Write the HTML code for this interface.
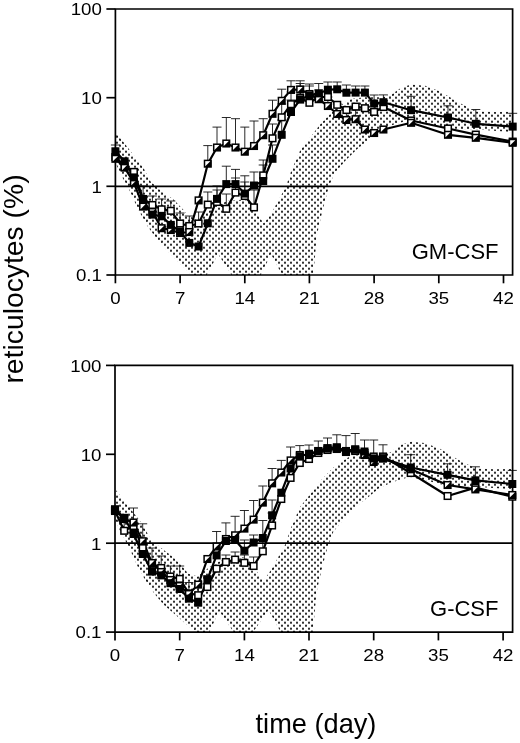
<!DOCTYPE html>
<html><head><meta charset="utf-8"><title>reticulocytes</title>
<style>
html,body{margin:0;padding:0;background:#fff}
body{width:520px;height:743px;overflow:hidden}
svg{display:block;will-change:transform}
text{font-family:"Liberation Sans",Arial,Helvetica,sans-serif;fill:#000}
.tk{font-size:17px}
.lb{font-size:22px}
.ax{font-size:28.3px}
.ax2{font-size:27.2px}
</style></head><body>
<svg width="520" height="743" viewBox="0 0 520 743">
<defs><pattern id="dots" x="0" y="1.7" width="6" height="6" patternUnits="userSpaceOnUse"><circle cx="0" cy="0" r="1.08"/><circle cx="6" cy="0" r="1.08"/><circle cx="0" cy="6" r="1.08"/><circle cx="6" cy="6" r="1.08"/><circle cx="3" cy="3" r="1.08"/></pattern></defs>
<rect width="520" height="743" fill="#fff"/>
<clipPath id="c9"><rect x="115.4" y="9" width="397.2" height="266"/></clipPath>
<polygon points="115.4,133 124,144 132.5,155 142,167 150,182 158,189 165,194.5 174,201 182.5,210 188,217 198,220 206,214 215,207 228.5,201.5 242,200.6 249.6,202 254,211 263.9,225 272.7,212.3 279.4,200.2 286.5,187.5 292,171 301.2,150 310,139 321.5,124 333,112 344.6,103.5 351.5,99.5 365,98 380,98 390.8,96 402.3,88 411.5,85.3 425,86.5 439.6,92 457.9,103 476,112 495,112.8 513,112.5 513,131.5 480,129 448,128 425,122 409.2,119 402.3,121.3 390.8,124.8 379.2,130.5 367.7,139.8 356.2,149 344.6,160.5 333,174.3 327.3,189.5 321.5,211.4 316.3,234.4 312.5,274.9 283,274.9 271,252.5 260,274.9 232.3,274.9 218,252.5 206,274.9 192.5,274.9 185.7,268.2 175.4,257.9 165,247.5 156.3,237 147.7,225 139,209.4 130.4,190.4 122,175 115.4,161" fill="url(#dots)" stroke="url(#dots)" stroke-width="1.6" stroke-linejoin="round" clip-path="url(#c9)"/>
<path d="M143.1 199V186M138.6 186H147.6" stroke="#111" stroke-width="0.9" fill="none"/>
<path d="M152.4 205V196M147.9 196H156.9" stroke="#111" stroke-width="0.9" fill="none"/>
<path d="M161.6 209.3V199M157.1 199H166.1" stroke="#111" stroke-width="0.9" fill="none"/>
<path d="M170.8 210.8V201M166.3 201H175.3" stroke="#111" stroke-width="0.9" fill="none"/>
<path d="M180.1 223.5V213M175.6 213H184.6" stroke="#111" stroke-width="0.9" fill="none"/>
<path d="M189.3 226V216M184.8 216H193.8" stroke="#111" stroke-width="0.9" fill="none"/>
<path d="M198.6 223.5V212M194.1 212H203.1" stroke="#111" stroke-width="0.9" fill="none"/>
<path d="M207.8 204.6V192M203.3 192H212.3" stroke="#111" stroke-width="0.9" fill="none"/>
<path d="M217 202V190M212.5 190H221.5" stroke="#111" stroke-width="0.9" fill="none"/>
<path d="M226.3 208.8V194M221.8 194H230.8" stroke="#111" stroke-width="0.9" fill="none"/>
<path d="M235.5 192.6V178M231 178H240" stroke="#111" stroke-width="0.9" fill="none"/>
<path d="M244.8 196V182M240.3 182H249.3" stroke="#111" stroke-width="0.9" fill="none"/>
<path d="M254 207.4V190M249.5 190H258.5" stroke="#111" stroke-width="0.9" fill="none"/>
<path d="M263.2 175.4V160M258.7 160H267.7" stroke="#111" stroke-width="0.9" fill="none"/>
<path d="M272.5 138.3V124M268 124H277" stroke="#111" stroke-width="0.9" fill="none"/>
<path d="M281.7 117.3V104M277.2 104H286.2" stroke="#111" stroke-width="0.9" fill="none"/>
<path d="M291 104.2V92M286.5 92H295.5" stroke="#111" stroke-width="0.9" fill="none"/>
<path d="M300.2 98V83.5M295.7 83.5H304.7" stroke="#111" stroke-width="0.9" fill="none"/>
<path d="M374.1 111.9V103M369.6 103H378.6" stroke="#111" stroke-width="0.9" fill="none"/>
<path d="M115.4 151.3V145M110.9 145H119.9" stroke="#111" stroke-width="0.9" fill="none"/>
<path d="M217 198.9V186M212.5 186H221.5" stroke="#111" stroke-width="0.9" fill="none"/>
<path d="M226.3 184.1V166.2M221.8 166.2H230.8" stroke="#111" stroke-width="0.9" fill="none"/>
<path d="M235.5 184.1V169.4M231 169.4H240" stroke="#111" stroke-width="0.9" fill="none"/>
<path d="M244.8 193.6V175.8M240.3 175.8H249.3" stroke="#111" stroke-width="0.9" fill="none"/>
<path d="M254 185.5V172M249.5 172H258.5" stroke="#111" stroke-width="0.9" fill="none"/>
<path d="M263.2 181V165M258.7 165H267.7" stroke="#111" stroke-width="0.9" fill="none"/>
<path d="M272.5 158.8V145M268 145H277" stroke="#111" stroke-width="0.9" fill="none"/>
<path d="M281.7 134.8V120M277.2 120H286.2" stroke="#111" stroke-width="0.9" fill="none"/>
<path d="M291 112V100M286.5 100H295.5" stroke="#111" stroke-width="0.9" fill="none"/>
<path d="M300.2 99.6V86.2M295.7 86.2H304.7" stroke="#111" stroke-width="0.9" fill="none"/>
<path d="M309.4 95.4V84M304.9 84H313.9" stroke="#111" stroke-width="0.9" fill="none"/>
<path d="M318.7 93.4V83.5M314.2 83.5H323.2" stroke="#111" stroke-width="0.9" fill="none"/>
<path d="M327.9 89.7V82M323.4 82H332.4" stroke="#111" stroke-width="0.9" fill="none"/>
<path d="M337.2 89.3V82M332.7 82H341.7" stroke="#111" stroke-width="0.9" fill="none"/>
<path d="M346.4 92.7V85M341.9 85H350.9" stroke="#111" stroke-width="0.9" fill="none"/>
<path d="M355.6 92.6V86M351.1 86H360.1" stroke="#111" stroke-width="0.9" fill="none"/>
<path d="M364.9 92.6V86M360.4 86H369.4" stroke="#111" stroke-width="0.9" fill="none"/>
<path d="M374.1 103.5V95M369.6 95H378.6" stroke="#111" stroke-width="0.9" fill="none"/>
<path d="M383.4 102.2V94.9M378.9 94.9H387.9" stroke="#111" stroke-width="0.9" fill="none"/>
<path d="M411.1 110.2V96.3M406.6 96.3H415.6" stroke="#111" stroke-width="0.9" fill="none"/>
<path d="M448 117.5V105.8M443.5 105.8H452.5" stroke="#111" stroke-width="0.9" fill="none"/>
<path d="M475.8 123.8V109.5M471.3 109.5H480.3" stroke="#111" stroke-width="0.9" fill="none"/>
<path d="M512.7 126.6V113.3M508.2 113.3H517.2" stroke="#111" stroke-width="0.9" fill="none"/>
<path d="M207.8 163.7V145.6M203.3 145.6H212.3" stroke="#111" stroke-width="0.9" fill="none"/>
<path d="M217 147.5V127.1M212.5 127.1H221.5" stroke="#111" stroke-width="0.9" fill="none"/>
<path d="M226.3 143.5V117.5M221.8 117.5H230.8" stroke="#111" stroke-width="0.9" fill="none"/>
<path d="M235.5 147.5V118.7M231 118.7H240" stroke="#111" stroke-width="0.9" fill="none"/>
<path d="M244.8 151.7V127.1M240.3 127.1H249.3" stroke="#111" stroke-width="0.9" fill="none"/>
<path d="M254 146V121M249.5 121H258.5" stroke="#111" stroke-width="0.9" fill="none"/>
<path d="M263.2 135.2V118.7M258.7 118.7H267.7" stroke="#111" stroke-width="0.9" fill="none"/>
<path d="M272.5 113.8V100.2M268 100.2H277" stroke="#111" stroke-width="0.9" fill="none"/>
<path d="M281.7 100.8V89.2M277.2 89.2H286.2" stroke="#111" stroke-width="0.9" fill="none"/>
<path d="M291 89.9V80.8M286.5 80.8H295.5" stroke="#111" stroke-width="0.9" fill="none"/>
<path d="M300.2 89.5V80.8M295.7 80.8H304.7" stroke="#111" stroke-width="0.9" fill="none"/>
<path d="M309.4 94V86M304.9 86H313.9" stroke="#111" stroke-width="0.9" fill="none"/>
<path d="M318.7 99.2V90M314.2 90H323.2" stroke="#111" stroke-width="0.9" fill="none"/>
<path d="M327.9 106V97M323.4 97H332.4" stroke="#111" stroke-width="0.9" fill="none"/>
<path d="M337.2 114V104M332.7 104H341.7" stroke="#111" stroke-width="0.9" fill="none"/>
<path d="M346.4 120V110M341.9 110H350.9" stroke="#111" stroke-width="0.9" fill="none"/>
<path d="M355.6 119.2V110M351.1 110H360.1" stroke="#111" stroke-width="0.9" fill="none"/>
<path d="M115.4 9H512.6V275H115.4Z" fill="none" stroke="#000" stroke-width="1.7"/>
<path d="M115.4 186.3H512.6" stroke="#000" stroke-width="1.8"/>
<path d="M106.4 9H115.4" stroke="#000" stroke-width="1.7"/>
<path d="M106.4 97.7H115.4" stroke="#000" stroke-width="1.7"/>
<path d="M106.4 186.3H115.4" stroke="#000" stroke-width="1.7"/>
<path d="M106.4 275H115.4" stroke="#000" stroke-width="1.7"/>
<path d="M115.4 275V283.3" stroke="#000" stroke-width="1.7"/>
<text transform="translate(115.4,304) scale(1.1,1)" text-anchor="middle" class="tk">0</text>
<path d="M180.1 275V283.3" stroke="#000" stroke-width="1.7"/>
<text transform="translate(180.1,304) scale(1.1,1)" text-anchor="middle" class="tk">7</text>
<path d="M244.8 275V283.3" stroke="#000" stroke-width="1.7"/>
<text transform="translate(244.8,304) scale(1.1,1)" text-anchor="middle" class="tk">14</text>
<path d="M309.4 275V283.3" stroke="#000" stroke-width="1.7"/>
<text transform="translate(309.4,304) scale(1.1,1)" text-anchor="middle" class="tk">21</text>
<path d="M374.1 275V283.3" stroke="#000" stroke-width="1.7"/>
<text transform="translate(374.1,304) scale(1.1,1)" text-anchor="middle" class="tk">28</text>
<path d="M438.8 275V283.3" stroke="#000" stroke-width="1.7"/>
<text transform="translate(438.8,304) scale(1.1,1)" text-anchor="middle" class="tk">35</text>
<path d="M503.5 275V283.3" stroke="#000" stroke-width="1.7"/>
<text transform="translate(503.5,304) scale(1.1,1)" text-anchor="middle" class="tk">42</text>
<text transform="translate(101.9,15.3) scale(1.1,1)" text-anchor="end" class="tk">100</text>
<text transform="translate(101.9,104) scale(1.1,1)" text-anchor="end" class="tk">10</text>
<text transform="translate(101.9,192.6) scale(1.1,1)" text-anchor="end" class="tk">1</text>
<text transform="translate(101.9,281.3) scale(1.1,1)" text-anchor="end" class="tk">0.1</text>
<path d="M115.4 157L124.6 166L133.9 171.9L143.1 199L152.4 205L161.6 209.3L170.8 210.8L180.1 223.5L189.3 226L198.6 223.5L207.8 204.6L217 202L226.3 208.8L235.5 192.6L244.8 196L254 207.4L263.2 175.4L272.5 138.3L281.7 117.3L291 104.2L300.2 98L309.4 102.8L318.7 97L327.9 97L337.2 104.8L346.4 110L355.6 106.6L364.9 108.2L374.1 111.9L383.4 107L411.1 120.5L448 128.5L475.8 134.6L512.7 141.6" fill="none" stroke="#000" stroke-width="2.2" stroke-linejoin="round"/>
<path d="M115.4 158.8L124.6 167.6L133.9 182.7L143.1 206.6L152.4 212L161.6 228.2L170.8 230L180.1 233L189.3 232L198.6 200.4L207.8 163.7L217 147.5L226.3 143.5L235.5 147.5L244.8 151.7L254 146L263.2 135.2L272.5 113.8L281.7 100.8L291 89.9L300.2 89.5L309.4 94L318.7 99.2L327.9 106L337.2 114L346.4 120L355.6 119.2L364.9 129.5L374.1 133L383.4 129.5L411.1 122.8L448 134.8L475.8 137.8L512.7 142.8" fill="none" stroke="#000" stroke-width="2.2" stroke-linejoin="round"/>
<path d="M115.4 151.3L124.6 161.3L133.9 177.4L143.1 199.8L152.4 214.6L161.6 216.3L170.8 224.9L180.1 231.5L189.3 242.9L198.6 246.5L207.8 223.3L217 198.9L226.3 184.1L235.5 184.1L244.8 193.6L254 185.5L263.2 181L272.5 158.8L281.7 134.8L291 112L300.2 99.6L309.4 95.4L318.7 93.4L327.9 89.7L337.2 89.3L346.4 92.7L355.6 92.6L364.9 92.6L374.1 103.5L383.4 102.2L411.1 110.2L448 117.5L475.8 123.8L512.7 126.6" fill="none" stroke="#000" stroke-width="2.2" stroke-linejoin="round"/>
<rect x="112.1" y="153.7" width="6.6" height="6.6" fill="#fff" stroke="#000" stroke-width="1.5"/>
<rect x="121.3" y="162.7" width="6.6" height="6.6" fill="#fff" stroke="#000" stroke-width="1.5"/>
<rect x="130.6" y="168.6" width="6.6" height="6.6" fill="#fff" stroke="#000" stroke-width="1.5"/>
<rect x="139.8" y="195.7" width="6.6" height="6.6" fill="#fff" stroke="#000" stroke-width="1.5"/>
<rect x="149.1" y="201.7" width="6.6" height="6.6" fill="#fff" stroke="#000" stroke-width="1.5"/>
<rect x="158.3" y="206" width="6.6" height="6.6" fill="#fff" stroke="#000" stroke-width="1.5"/>
<rect x="167.5" y="207.5" width="6.6" height="6.6" fill="#fff" stroke="#000" stroke-width="1.5"/>
<rect x="176.8" y="220.2" width="6.6" height="6.6" fill="#fff" stroke="#000" stroke-width="1.5"/>
<rect x="186" y="222.7" width="6.6" height="6.6" fill="#fff" stroke="#000" stroke-width="1.5"/>
<rect x="195.3" y="220.2" width="6.6" height="6.6" fill="#fff" stroke="#000" stroke-width="1.5"/>
<rect x="204.5" y="201.3" width="6.6" height="6.6" fill="#fff" stroke="#000" stroke-width="1.5"/>
<rect x="213.7" y="198.7" width="6.6" height="6.6" fill="#fff" stroke="#000" stroke-width="1.5"/>
<rect x="223" y="205.5" width="6.6" height="6.6" fill="#fff" stroke="#000" stroke-width="1.5"/>
<rect x="232.2" y="189.3" width="6.6" height="6.6" fill="#fff" stroke="#000" stroke-width="1.5"/>
<rect x="241.5" y="192.7" width="6.6" height="6.6" fill="#fff" stroke="#000" stroke-width="1.5"/>
<rect x="250.7" y="204.1" width="6.6" height="6.6" fill="#fff" stroke="#000" stroke-width="1.5"/>
<rect x="259.9" y="172.1" width="6.6" height="6.6" fill="#fff" stroke="#000" stroke-width="1.5"/>
<rect x="269.2" y="135" width="6.6" height="6.6" fill="#fff" stroke="#000" stroke-width="1.5"/>
<rect x="278.4" y="114" width="6.6" height="6.6" fill="#fff" stroke="#000" stroke-width="1.5"/>
<rect x="287.7" y="100.9" width="6.6" height="6.6" fill="#fff" stroke="#000" stroke-width="1.5"/>
<rect x="296.9" y="94.7" width="6.6" height="6.6" fill="#fff" stroke="#000" stroke-width="1.5"/>
<rect x="306.1" y="99.5" width="6.6" height="6.6" fill="#fff" stroke="#000" stroke-width="1.5"/>
<rect x="315.4" y="93.7" width="6.6" height="6.6" fill="#fff" stroke="#000" stroke-width="1.5"/>
<rect x="324.6" y="93.7" width="6.6" height="6.6" fill="#fff" stroke="#000" stroke-width="1.5"/>
<rect x="333.9" y="101.5" width="6.6" height="6.6" fill="#fff" stroke="#000" stroke-width="1.5"/>
<rect x="343.1" y="106.7" width="6.6" height="6.6" fill="#fff" stroke="#000" stroke-width="1.5"/>
<rect x="352.3" y="103.3" width="6.6" height="6.6" fill="#fff" stroke="#000" stroke-width="1.5"/>
<rect x="361.6" y="104.9" width="6.6" height="6.6" fill="#fff" stroke="#000" stroke-width="1.5"/>
<rect x="370.8" y="108.6" width="6.6" height="6.6" fill="#fff" stroke="#000" stroke-width="1.5"/>
<rect x="380.1" y="103.7" width="6.6" height="6.6" fill="#fff" stroke="#000" stroke-width="1.5"/>
<rect x="407.8" y="117.2" width="6.6" height="6.6" fill="#fff" stroke="#000" stroke-width="1.5"/>
<rect x="444.7" y="125.2" width="6.6" height="6.6" fill="#fff" stroke="#000" stroke-width="1.5"/>
<rect x="472.5" y="131.3" width="6.6" height="6.6" fill="#fff" stroke="#000" stroke-width="1.5"/>
<rect x="509.4" y="138.3" width="6.6" height="6.6" fill="#fff" stroke="#000" stroke-width="1.5"/>
<rect x="112.1" y="155.5" width="6.6" height="6.6" fill="#fff" stroke="#000" stroke-width="1.5"/>
<path d="M118.7 155.5V162.1H112.1Z" fill="#000"/>
<rect x="121.3" y="164.3" width="6.6" height="6.6" fill="#fff" stroke="#000" stroke-width="1.5"/>
<path d="M127.9 164.3V170.9H121.3Z" fill="#000"/>
<rect x="130.6" y="179.4" width="6.6" height="6.6" fill="#fff" stroke="#000" stroke-width="1.5"/>
<path d="M137.2 179.4V186H130.6Z" fill="#000"/>
<rect x="139.8" y="203.3" width="6.6" height="6.6" fill="#fff" stroke="#000" stroke-width="1.5"/>
<path d="M146.4 203.3V209.9H139.8Z" fill="#000"/>
<rect x="149.1" y="208.7" width="6.6" height="6.6" fill="#fff" stroke="#000" stroke-width="1.5"/>
<path d="M155.7 208.7V215.3H149.1Z" fill="#000"/>
<rect x="158.3" y="224.9" width="6.6" height="6.6" fill="#fff" stroke="#000" stroke-width="1.5"/>
<path d="M164.9 224.9V231.5H158.3Z" fill="#000"/>
<rect x="167.5" y="226.7" width="6.6" height="6.6" fill="#fff" stroke="#000" stroke-width="1.5"/>
<path d="M174.1 226.7V233.3H167.5Z" fill="#000"/>
<rect x="176.8" y="229.7" width="6.6" height="6.6" fill="#fff" stroke="#000" stroke-width="1.5"/>
<path d="M183.4 229.7V236.3H176.8Z" fill="#000"/>
<rect x="186" y="228.7" width="6.6" height="6.6" fill="#fff" stroke="#000" stroke-width="1.5"/>
<path d="M192.6 228.7V235.3H186Z" fill="#000"/>
<rect x="195.3" y="197.1" width="6.6" height="6.6" fill="#fff" stroke="#000" stroke-width="1.5"/>
<path d="M201.9 197.1V203.7H195.3Z" fill="#000"/>
<rect x="204.5" y="160.4" width="6.6" height="6.6" fill="#fff" stroke="#000" stroke-width="1.5"/>
<path d="M211.1 160.4V167H204.5Z" fill="#000"/>
<rect x="213.7" y="144.2" width="6.6" height="6.6" fill="#fff" stroke="#000" stroke-width="1.5"/>
<path d="M220.3 144.2V150.8H213.7Z" fill="#000"/>
<rect x="223" y="140.2" width="6.6" height="6.6" fill="#fff" stroke="#000" stroke-width="1.5"/>
<path d="M229.6 140.2V146.8H223Z" fill="#000"/>
<rect x="232.2" y="144.2" width="6.6" height="6.6" fill="#fff" stroke="#000" stroke-width="1.5"/>
<path d="M238.8 144.2V150.8H232.2Z" fill="#000"/>
<rect x="241.5" y="148.4" width="6.6" height="6.6" fill="#fff" stroke="#000" stroke-width="1.5"/>
<path d="M248.1 148.4V155H241.5Z" fill="#000"/>
<rect x="250.7" y="142.7" width="6.6" height="6.6" fill="#fff" stroke="#000" stroke-width="1.5"/>
<path d="M257.3 142.7V149.3H250.7Z" fill="#000"/>
<rect x="259.9" y="131.9" width="6.6" height="6.6" fill="#fff" stroke="#000" stroke-width="1.5"/>
<path d="M266.5 131.9V138.5H259.9Z" fill="#000"/>
<rect x="269.2" y="110.5" width="6.6" height="6.6" fill="#fff" stroke="#000" stroke-width="1.5"/>
<path d="M275.8 110.5V117.1H269.2Z" fill="#000"/>
<rect x="278.4" y="97.5" width="6.6" height="6.6" fill="#fff" stroke="#000" stroke-width="1.5"/>
<path d="M285 97.5V104.1H278.4Z" fill="#000"/>
<rect x="287.7" y="86.6" width="6.6" height="6.6" fill="#fff" stroke="#000" stroke-width="1.5"/>
<path d="M294.3 86.6V93.2H287.7Z" fill="#000"/>
<rect x="296.9" y="86.2" width="6.6" height="6.6" fill="#fff" stroke="#000" stroke-width="1.5"/>
<path d="M303.5 86.2V92.8H296.9Z" fill="#000"/>
<rect x="306.1" y="90.7" width="6.6" height="6.6" fill="#fff" stroke="#000" stroke-width="1.5"/>
<path d="M312.7 90.7V97.3H306.1Z" fill="#000"/>
<rect x="315.4" y="95.9" width="6.6" height="6.6" fill="#fff" stroke="#000" stroke-width="1.5"/>
<path d="M322 95.9V102.5H315.4Z" fill="#000"/>
<rect x="324.6" y="102.7" width="6.6" height="6.6" fill="#fff" stroke="#000" stroke-width="1.5"/>
<path d="M331.2 102.7V109.3H324.6Z" fill="#000"/>
<rect x="333.9" y="110.7" width="6.6" height="6.6" fill="#fff" stroke="#000" stroke-width="1.5"/>
<path d="M340.5 110.7V117.3H333.9Z" fill="#000"/>
<rect x="343.1" y="116.7" width="6.6" height="6.6" fill="#fff" stroke="#000" stroke-width="1.5"/>
<path d="M349.7 116.7V123.3H343.1Z" fill="#000"/>
<rect x="352.3" y="115.9" width="6.6" height="6.6" fill="#fff" stroke="#000" stroke-width="1.5"/>
<path d="M358.9 115.9V122.5H352.3Z" fill="#000"/>
<rect x="361.6" y="126.2" width="6.6" height="6.6" fill="#fff" stroke="#000" stroke-width="1.5"/>
<path d="M368.2 126.2V132.8H361.6Z" fill="#000"/>
<rect x="370.8" y="129.7" width="6.6" height="6.6" fill="#fff" stroke="#000" stroke-width="1.5"/>
<path d="M377.4 129.7V136.3H370.8Z" fill="#000"/>
<rect x="380.1" y="126.2" width="6.6" height="6.6" fill="#fff" stroke="#000" stroke-width="1.5"/>
<path d="M386.7 126.2V132.8H380.1Z" fill="#000"/>
<rect x="407.8" y="119.5" width="6.6" height="6.6" fill="#fff" stroke="#000" stroke-width="1.5"/>
<path d="M414.4 119.5V126.1H407.8Z" fill="#000"/>
<rect x="444.7" y="131.5" width="6.6" height="6.6" fill="#fff" stroke="#000" stroke-width="1.5"/>
<path d="M451.3 131.5V138.1H444.7Z" fill="#000"/>
<rect x="472.5" y="134.5" width="6.6" height="6.6" fill="#fff" stroke="#000" stroke-width="1.5"/>
<path d="M479.1 134.5V141.1H472.5Z" fill="#000"/>
<rect x="509.4" y="139.5" width="6.6" height="6.6" fill="#fff" stroke="#000" stroke-width="1.5"/>
<path d="M516 139.5V146.1H509.4Z" fill="#000"/>
<rect x="111.4" y="147.3" width="8" height="8" fill="#000"/>
<rect x="120.6" y="157.3" width="8" height="8" fill="#000"/>
<rect x="129.9" y="173.4" width="8" height="8" fill="#000"/>
<rect x="139.1" y="195.8" width="8" height="8" fill="#000"/>
<rect x="148.4" y="210.6" width="8" height="8" fill="#000"/>
<rect x="157.6" y="212.3" width="8" height="8" fill="#000"/>
<rect x="166.8" y="220.9" width="8" height="8" fill="#000"/>
<rect x="176.1" y="227.5" width="8" height="8" fill="#000"/>
<rect x="185.3" y="238.9" width="8" height="8" fill="#000"/>
<rect x="194.6" y="242.5" width="8" height="8" fill="#000"/>
<rect x="203.8" y="219.3" width="8" height="8" fill="#000"/>
<rect x="213" y="194.9" width="8" height="8" fill="#000"/>
<rect x="222.3" y="180.1" width="8" height="8" fill="#000"/>
<rect x="231.5" y="180.1" width="8" height="8" fill="#000"/>
<rect x="240.8" y="189.6" width="8" height="8" fill="#000"/>
<rect x="250" y="181.5" width="8" height="8" fill="#000"/>
<rect x="259.2" y="177" width="8" height="8" fill="#000"/>
<rect x="268.5" y="154.8" width="8" height="8" fill="#000"/>
<rect x="277.7" y="130.8" width="8" height="8" fill="#000"/>
<rect x="287" y="108" width="8" height="8" fill="#000"/>
<rect x="296.2" y="95.6" width="8" height="8" fill="#000"/>
<rect x="305.4" y="91.4" width="8" height="8" fill="#000"/>
<rect x="314.7" y="89.4" width="8" height="8" fill="#000"/>
<rect x="323.9" y="85.7" width="8" height="8" fill="#000"/>
<rect x="333.2" y="85.3" width="8" height="8" fill="#000"/>
<rect x="342.4" y="88.7" width="8" height="8" fill="#000"/>
<rect x="351.6" y="88.6" width="8" height="8" fill="#000"/>
<rect x="360.9" y="88.6" width="8" height="8" fill="#000"/>
<rect x="370.1" y="99.5" width="8" height="8" fill="#000"/>
<rect x="379.4" y="98.2" width="8" height="8" fill="#000"/>
<rect x="407.1" y="106.2" width="8" height="8" fill="#000"/>
<rect x="444" y="113.5" width="8" height="8" fill="#000"/>
<rect x="471.8" y="119.8" width="8" height="8" fill="#000"/>
<rect x="508.7" y="122.6" width="8" height="8" fill="#000"/>
<text x="498.5" y="259.2" text-anchor="end" class="lb">GM-CSF</text>
<clipPath id="c365"><rect x="115" y="365.4" width="397.6" height="266.7"/></clipPath>
<polygon points="115,490.2 123.6,501.2 132.1,512.2 141.6,524.2 149.6,539.2 157.6,546.2 164.6,551.7 173.6,558.2 182.1,567.2 187.6,574.2 197.6,577.2 205.6,571.2 214.6,564.2 228.1,558.7 241.6,557.8 249.2,559.2 253.6,568.2 263.5,582.2 272.3,569.5 279,557.4 286.1,544.7 291.6,528.2 300.8,507.2 309.6,496.2 321.1,481.2 332.6,469.2 344.2,460.7 351.1,456.7 364.6,455.2 379.6,455.2 390.4,453.2 401.9,445.2 411.1,442.5 424.6,443.7 439.2,449.2 457.5,460.2 475.6,469.2 494.6,470 512.6,469.7 512.6,488.7 479.6,486.2 447.6,485.2 424.6,479.2 408.8,476.2 401.9,478.5 390.4,482 378.8,487.7 367.3,497 355.8,506.2 344.2,517.7 332.6,531.5 326.9,546.7 321.1,568.6 315.9,591.6 312.1,632.1 281.6,632.1 268.6,608.7 252.1,632.1 234.6,632.1 218.9,609.2 208.6,632.1 197.1,632.1 188.6,625.4 177.1,615.1 164.6,604.7 155.9,594.2 147.3,582.2 138.6,566.6 130,547.6 121.6,532.2 115,518.2" fill="url(#dots)" stroke="url(#dots)" stroke-width="1.6" stroke-linejoin="round" clip-path="url(#c365)"/>
<path d="M124.2 530.8V516M119.7 516H128.7" stroke="#111" stroke-width="0.9" fill="none"/>
<path d="M170.4 576.5V566M165.9 566H174.9" stroke="#111" stroke-width="0.9" fill="none"/>
<path d="M179.7 578.9V566M175.2 566H184.2" stroke="#111" stroke-width="0.9" fill="none"/>
<path d="M188.9 593.4V582.5M184.4 582.5H193.4" stroke="#111" stroke-width="0.9" fill="none"/>
<path d="M198.2 595.2V584M193.7 584H202.7" stroke="#111" stroke-width="0.9" fill="none"/>
<path d="M207.4 587V576M202.9 576H211.9" stroke="#111" stroke-width="0.9" fill="none"/>
<path d="M225.9 562V555M221.4 555H230.4" stroke="#111" stroke-width="0.9" fill="none"/>
<path d="M235.1 559.6V552M230.6 552H239.6" stroke="#111" stroke-width="0.9" fill="none"/>
<path d="M244.4 562.8V555M239.9 555H248.9" stroke="#111" stroke-width="0.9" fill="none"/>
<path d="M253.6 566V557M249.1 557H258.1" stroke="#111" stroke-width="0.9" fill="none"/>
<path d="M262.8 551.3V540M258.3 540H267.3" stroke="#111" stroke-width="0.9" fill="none"/>
<path d="M272.1 525.5V513M267.6 513H276.6" stroke="#111" stroke-width="0.9" fill="none"/>
<path d="M244.4 550.7V540M239.9 540H248.9" stroke="#111" stroke-width="0.9" fill="none"/>
<path d="M253.6 542.5V535M249.1 535H258.1" stroke="#111" stroke-width="0.9" fill="none"/>
<path d="M262.8 538V520.5M258.3 520.5H267.3" stroke="#111" stroke-width="0.9" fill="none"/>
<path d="M272.1 515.3V500M267.6 500H276.6" stroke="#111" stroke-width="0.9" fill="none"/>
<path d="M373.7 458.4V440M369.2 440H378.2" stroke="#111" stroke-width="0.9" fill="none"/>
<path d="M383 458.4V444.8M378.5 444.8H387.5" stroke="#111" stroke-width="0.9" fill="none"/>
<path d="M410.7 467.5V454.7M406.2 454.7H415.2" stroke="#111" stroke-width="0.9" fill="none"/>
<path d="M447.6 474.8V463.8M443.1 463.8H452.1" stroke="#111" stroke-width="0.9" fill="none"/>
<path d="M475.4 480.3V466.8M470.9 466.8H479.9" stroke="#111" stroke-width="0.9" fill="none"/>
<path d="M512.3 484V470.4M507.8 470.4H516.8" stroke="#111" stroke-width="0.9" fill="none"/>
<path d="M133.5 522.5V508M129 508H138" stroke="#111" stroke-width="0.9" fill="none"/>
<path d="M142.7 541.2V523.8M138.2 523.8H147.2" stroke="#111" stroke-width="0.9" fill="none"/>
<path d="M152 563V548M147.5 548H156.5" stroke="#111" stroke-width="0.9" fill="none"/>
<path d="M161.2 572V556M156.7 556H165.7" stroke="#111" stroke-width="0.9" fill="none"/>
<path d="M216.6 546.5V531.5M212.1 531.5H221.1" stroke="#111" stroke-width="0.9" fill="none"/>
<path d="M225.9 539V522.9M221.4 522.9H230.4" stroke="#111" stroke-width="0.9" fill="none"/>
<path d="M235.1 535.3V516.3M230.6 516.3H239.6" stroke="#111" stroke-width="0.9" fill="none"/>
<path d="M244.4 528.6V510.5M239.9 510.5H248.9" stroke="#111" stroke-width="0.9" fill="none"/>
<path d="M253.6 519.6V500.5M249.1 500.5H258.1" stroke="#111" stroke-width="0.9" fill="none"/>
<path d="M262.8 502.6V486M258.3 486H267.3" stroke="#111" stroke-width="0.9" fill="none"/>
<path d="M272.1 483.3V468.5M267.6 468.5H276.6" stroke="#111" stroke-width="0.9" fill="none"/>
<path d="M281.3 472.5V460.4M276.8 460.4H285.8" stroke="#111" stroke-width="0.9" fill="none"/>
<path d="M290.6 460.4V447M286.1 447H295.1" stroke="#111" stroke-width="0.9" fill="none"/>
<path d="M299.8 455V445.6M295.3 445.6H304.3" stroke="#111" stroke-width="0.9" fill="none"/>
<path d="M309 455V445M304.5 445H313.5" stroke="#111" stroke-width="0.9" fill="none"/>
<path d="M318.3 451V441M313.8 441H322.8" stroke="#111" stroke-width="0.9" fill="none"/>
<path d="M327.5 448.3V438M323 438H332" stroke="#111" stroke-width="0.9" fill="none"/>
<path d="M336.8 448.3V434.8M332.3 434.8H341.3" stroke="#111" stroke-width="0.9" fill="none"/>
<path d="M346 451V435.6M341.5 435.6H350.5" stroke="#111" stroke-width="0.9" fill="none"/>
<path d="M355.2 449.6V433.5M350.7 433.5H359.7" stroke="#111" stroke-width="0.9" fill="none"/>
<path d="M364.5 455V440M360 440H369" stroke="#111" stroke-width="0.9" fill="none"/>
<path d="M115 365.4H512.6V632.1H115Z" fill="none" stroke="#000" stroke-width="1.7"/>
<path d="M115 543.2H512.6" stroke="#000" stroke-width="1.8"/>
<path d="M106 365.4H115" stroke="#000" stroke-width="1.7"/>
<path d="M106 454.3H115" stroke="#000" stroke-width="1.7"/>
<path d="M106 543.2H115" stroke="#000" stroke-width="1.7"/>
<path d="M106 632.1H115" stroke="#000" stroke-width="1.7"/>
<path d="M115 632.1V640.4" stroke="#000" stroke-width="1.7"/>
<text transform="translate(115,661.1) scale(1.1,1)" text-anchor="middle" class="tk">0</text>
<path d="M179.7 632.1V640.4" stroke="#000" stroke-width="1.7"/>
<text transform="translate(179.7,661.1) scale(1.1,1)" text-anchor="middle" class="tk">7</text>
<path d="M244.4 632.1V640.4" stroke="#000" stroke-width="1.7"/>
<text transform="translate(244.4,661.1) scale(1.1,1)" text-anchor="middle" class="tk">14</text>
<path d="M309 632.1V640.4" stroke="#000" stroke-width="1.7"/>
<text transform="translate(309,661.1) scale(1.1,1)" text-anchor="middle" class="tk">21</text>
<path d="M373.7 632.1V640.4" stroke="#000" stroke-width="1.7"/>
<text transform="translate(373.7,661.1) scale(1.1,1)" text-anchor="middle" class="tk">28</text>
<path d="M438.4 632.1V640.4" stroke="#000" stroke-width="1.7"/>
<text transform="translate(438.4,661.1) scale(1.1,1)" text-anchor="middle" class="tk">35</text>
<path d="M503.1 632.1V640.4" stroke="#000" stroke-width="1.7"/>
<text transform="translate(503.1,661.1) scale(1.1,1)" text-anchor="middle" class="tk">42</text>
<text transform="translate(101.5,371.7) scale(1.1,1)" text-anchor="end" class="tk">100</text>
<text transform="translate(101.5,460.6) scale(1.1,1)" text-anchor="end" class="tk">10</text>
<text transform="translate(101.5,549.5) scale(1.1,1)" text-anchor="end" class="tk">1</text>
<text transform="translate(101.5,638.4) scale(1.1,1)" text-anchor="end" class="tk">0.1</text>
<path d="M115 511L124.2 530.8L133.5 526L142.7 548L152 563.8L161.2 568L170.4 576.5L179.7 578.9L188.9 593.4L198.2 595.2L207.4 587L216.6 568.7L225.9 562L235.1 559.6L244.4 562.8L253.6 566L262.8 551.3L272.1 525.5L281.3 499L290.6 477.9L299.8 463L309 459L318.3 453L327.5 450L336.8 449L346 452L355.2 451L364.5 453L373.7 456.5L383 456.5L410.7 473L447.6 496L475.4 487.6L512.3 496.7" fill="none" stroke="#000" stroke-width="2.2" stroke-linejoin="round"/>
<path d="M115 510L124.2 519L133.5 522.5L142.7 541.2L152 563L161.2 572L170.4 580L179.7 586L188.9 594L198.2 584.6L207.4 559L216.6 546.5L225.9 539L235.1 535.3L244.4 528.6L253.6 519.6L262.8 502.6L272.1 483.3L281.3 472.5L290.6 460.4L299.8 455L309 455L318.3 451L327.5 448.3L336.8 448.3L346 451L355.2 449.6L364.5 455L373.7 462L383 458.4L410.7 469.3L447.6 485L475.4 489.4L512.3 495" fill="none" stroke="#000" stroke-width="2.2" stroke-linejoin="round"/>
<path d="M115 509.2L124.2 517.8L133.5 534L142.7 554L152 571.6L161.2 575.4L170.4 583.2L179.7 589L188.9 598.6L198.2 602.7L207.4 579.3L216.6 555.4L225.9 541L235.1 540L244.4 550.7L253.6 542.5L262.8 538L272.1 515.3L281.3 492.7L290.6 468.5L299.8 456.3L309 453.7L318.3 451L327.5 448.3L336.8 447.2L346 451L355.2 449.4L364.5 451.5L373.7 458.4L383 458.4L410.7 467.5L447.6 474.8L475.4 480.3L512.3 484" fill="none" stroke="#000" stroke-width="2.2" stroke-linejoin="round"/>
<rect x="111.7" y="507.7" width="6.6" height="6.6" fill="#fff" stroke="#000" stroke-width="1.5"/>
<rect x="120.9" y="527.5" width="6.6" height="6.6" fill="#fff" stroke="#000" stroke-width="1.5"/>
<rect x="130.2" y="522.7" width="6.6" height="6.6" fill="#fff" stroke="#000" stroke-width="1.5"/>
<rect x="139.4" y="544.7" width="6.6" height="6.6" fill="#fff" stroke="#000" stroke-width="1.5"/>
<rect x="148.7" y="560.5" width="6.6" height="6.6" fill="#fff" stroke="#000" stroke-width="1.5"/>
<rect x="157.9" y="564.7" width="6.6" height="6.6" fill="#fff" stroke="#000" stroke-width="1.5"/>
<rect x="167.1" y="573.2" width="6.6" height="6.6" fill="#fff" stroke="#000" stroke-width="1.5"/>
<rect x="176.4" y="575.6" width="6.6" height="6.6" fill="#fff" stroke="#000" stroke-width="1.5"/>
<rect x="185.6" y="590.1" width="6.6" height="6.6" fill="#fff" stroke="#000" stroke-width="1.5"/>
<rect x="194.9" y="591.9" width="6.6" height="6.6" fill="#fff" stroke="#000" stroke-width="1.5"/>
<rect x="204.1" y="583.7" width="6.6" height="6.6" fill="#fff" stroke="#000" stroke-width="1.5"/>
<rect x="213.3" y="565.4" width="6.6" height="6.6" fill="#fff" stroke="#000" stroke-width="1.5"/>
<rect x="222.6" y="558.7" width="6.6" height="6.6" fill="#fff" stroke="#000" stroke-width="1.5"/>
<rect x="231.8" y="556.3" width="6.6" height="6.6" fill="#fff" stroke="#000" stroke-width="1.5"/>
<rect x="241.1" y="559.5" width="6.6" height="6.6" fill="#fff" stroke="#000" stroke-width="1.5"/>
<rect x="250.3" y="562.7" width="6.6" height="6.6" fill="#fff" stroke="#000" stroke-width="1.5"/>
<rect x="259.5" y="548" width="6.6" height="6.6" fill="#fff" stroke="#000" stroke-width="1.5"/>
<rect x="268.8" y="522.2" width="6.6" height="6.6" fill="#fff" stroke="#000" stroke-width="1.5"/>
<rect x="278" y="495.7" width="6.6" height="6.6" fill="#fff" stroke="#000" stroke-width="1.5"/>
<rect x="287.3" y="474.6" width="6.6" height="6.6" fill="#fff" stroke="#000" stroke-width="1.5"/>
<rect x="296.5" y="459.7" width="6.6" height="6.6" fill="#fff" stroke="#000" stroke-width="1.5"/>
<rect x="305.7" y="455.7" width="6.6" height="6.6" fill="#fff" stroke="#000" stroke-width="1.5"/>
<rect x="315" y="449.7" width="6.6" height="6.6" fill="#fff" stroke="#000" stroke-width="1.5"/>
<rect x="324.2" y="446.7" width="6.6" height="6.6" fill="#fff" stroke="#000" stroke-width="1.5"/>
<rect x="333.5" y="445.7" width="6.6" height="6.6" fill="#fff" stroke="#000" stroke-width="1.5"/>
<rect x="342.7" y="448.7" width="6.6" height="6.6" fill="#fff" stroke="#000" stroke-width="1.5"/>
<rect x="351.9" y="447.7" width="6.6" height="6.6" fill="#fff" stroke="#000" stroke-width="1.5"/>
<rect x="361.2" y="449.7" width="6.6" height="6.6" fill="#fff" stroke="#000" stroke-width="1.5"/>
<rect x="370.4" y="453.2" width="6.6" height="6.6" fill="#fff" stroke="#000" stroke-width="1.5"/>
<rect x="379.7" y="453.2" width="6.6" height="6.6" fill="#fff" stroke="#000" stroke-width="1.5"/>
<rect x="407.4" y="469.7" width="6.6" height="6.6" fill="#fff" stroke="#000" stroke-width="1.5"/>
<rect x="444.3" y="492.7" width="6.6" height="6.6" fill="#fff" stroke="#000" stroke-width="1.5"/>
<rect x="472.1" y="484.3" width="6.6" height="6.6" fill="#fff" stroke="#000" stroke-width="1.5"/>
<rect x="509" y="493.4" width="6.6" height="6.6" fill="#fff" stroke="#000" stroke-width="1.5"/>
<rect x="111.7" y="506.7" width="6.6" height="6.6" fill="#fff" stroke="#000" stroke-width="1.5"/>
<path d="M118.3 506.7V513.3H111.7Z" fill="#000"/>
<rect x="120.9" y="515.7" width="6.6" height="6.6" fill="#fff" stroke="#000" stroke-width="1.5"/>
<path d="M127.5 515.7V522.3H120.9Z" fill="#000"/>
<rect x="130.2" y="519.2" width="6.6" height="6.6" fill="#fff" stroke="#000" stroke-width="1.5"/>
<path d="M136.8 519.2V525.8H130.2Z" fill="#000"/>
<rect x="139.4" y="537.9" width="6.6" height="6.6" fill="#fff" stroke="#000" stroke-width="1.5"/>
<path d="M146 537.9V544.5H139.4Z" fill="#000"/>
<rect x="148.7" y="559.7" width="6.6" height="6.6" fill="#fff" stroke="#000" stroke-width="1.5"/>
<path d="M155.3 559.7V566.3H148.7Z" fill="#000"/>
<rect x="157.9" y="568.7" width="6.6" height="6.6" fill="#fff" stroke="#000" stroke-width="1.5"/>
<path d="M164.5 568.7V575.3H157.9Z" fill="#000"/>
<rect x="167.1" y="576.7" width="6.6" height="6.6" fill="#fff" stroke="#000" stroke-width="1.5"/>
<path d="M173.7 576.7V583.3H167.1Z" fill="#000"/>
<rect x="176.4" y="582.7" width="6.6" height="6.6" fill="#fff" stroke="#000" stroke-width="1.5"/>
<path d="M183 582.7V589.3H176.4Z" fill="#000"/>
<rect x="185.6" y="590.7" width="6.6" height="6.6" fill="#fff" stroke="#000" stroke-width="1.5"/>
<path d="M192.2 590.7V597.3H185.6Z" fill="#000"/>
<rect x="194.9" y="581.3" width="6.6" height="6.6" fill="#fff" stroke="#000" stroke-width="1.5"/>
<path d="M201.5 581.3V587.9H194.9Z" fill="#000"/>
<rect x="204.1" y="555.7" width="6.6" height="6.6" fill="#fff" stroke="#000" stroke-width="1.5"/>
<path d="M210.7 555.7V562.3H204.1Z" fill="#000"/>
<rect x="213.3" y="543.2" width="6.6" height="6.6" fill="#fff" stroke="#000" stroke-width="1.5"/>
<path d="M219.9 543.2V549.8H213.3Z" fill="#000"/>
<rect x="222.6" y="535.7" width="6.6" height="6.6" fill="#fff" stroke="#000" stroke-width="1.5"/>
<path d="M229.2 535.7V542.3H222.6Z" fill="#000"/>
<rect x="231.8" y="532" width="6.6" height="6.6" fill="#fff" stroke="#000" stroke-width="1.5"/>
<path d="M238.4 532V538.6H231.8Z" fill="#000"/>
<rect x="241.1" y="525.3" width="6.6" height="6.6" fill="#fff" stroke="#000" stroke-width="1.5"/>
<path d="M247.7 525.3V531.9H241.1Z" fill="#000"/>
<rect x="250.3" y="516.3" width="6.6" height="6.6" fill="#fff" stroke="#000" stroke-width="1.5"/>
<path d="M256.9 516.3V522.9H250.3Z" fill="#000"/>
<rect x="259.5" y="499.3" width="6.6" height="6.6" fill="#fff" stroke="#000" stroke-width="1.5"/>
<path d="M266.1 499.3V505.9H259.5Z" fill="#000"/>
<rect x="268.8" y="480" width="6.6" height="6.6" fill="#fff" stroke="#000" stroke-width="1.5"/>
<path d="M275.4 480V486.6H268.8Z" fill="#000"/>
<rect x="278" y="469.2" width="6.6" height="6.6" fill="#fff" stroke="#000" stroke-width="1.5"/>
<path d="M284.6 469.2V475.8H278Z" fill="#000"/>
<rect x="287.3" y="457.1" width="6.6" height="6.6" fill="#fff" stroke="#000" stroke-width="1.5"/>
<path d="M293.9 457.1V463.7H287.3Z" fill="#000"/>
<rect x="296.5" y="451.7" width="6.6" height="6.6" fill="#fff" stroke="#000" stroke-width="1.5"/>
<path d="M303.1 451.7V458.3H296.5Z" fill="#000"/>
<rect x="305.7" y="451.7" width="6.6" height="6.6" fill="#fff" stroke="#000" stroke-width="1.5"/>
<path d="M312.3 451.7V458.3H305.7Z" fill="#000"/>
<rect x="315" y="447.7" width="6.6" height="6.6" fill="#fff" stroke="#000" stroke-width="1.5"/>
<path d="M321.6 447.7V454.3H315Z" fill="#000"/>
<rect x="324.2" y="445" width="6.6" height="6.6" fill="#fff" stroke="#000" stroke-width="1.5"/>
<path d="M330.8 445V451.6H324.2Z" fill="#000"/>
<rect x="333.5" y="445" width="6.6" height="6.6" fill="#fff" stroke="#000" stroke-width="1.5"/>
<path d="M340.1 445V451.6H333.5Z" fill="#000"/>
<rect x="342.7" y="447.7" width="6.6" height="6.6" fill="#fff" stroke="#000" stroke-width="1.5"/>
<path d="M349.3 447.7V454.3H342.7Z" fill="#000"/>
<rect x="351.9" y="446.3" width="6.6" height="6.6" fill="#fff" stroke="#000" stroke-width="1.5"/>
<path d="M358.5 446.3V452.9H351.9Z" fill="#000"/>
<rect x="361.2" y="451.7" width="6.6" height="6.6" fill="#fff" stroke="#000" stroke-width="1.5"/>
<path d="M367.8 451.7V458.3H361.2Z" fill="#000"/>
<rect x="370.4" y="458.7" width="6.6" height="6.6" fill="#fff" stroke="#000" stroke-width="1.5"/>
<path d="M377 458.7V465.3H370.4Z" fill="#000"/>
<rect x="379.7" y="455.1" width="6.6" height="6.6" fill="#fff" stroke="#000" stroke-width="1.5"/>
<path d="M386.3 455.1V461.7H379.7Z" fill="#000"/>
<rect x="407.4" y="466" width="6.6" height="6.6" fill="#fff" stroke="#000" stroke-width="1.5"/>
<path d="M414 466V472.6H407.4Z" fill="#000"/>
<rect x="444.3" y="481.7" width="6.6" height="6.6" fill="#fff" stroke="#000" stroke-width="1.5"/>
<path d="M450.9 481.7V488.3H444.3Z" fill="#000"/>
<rect x="472.1" y="486.1" width="6.6" height="6.6" fill="#fff" stroke="#000" stroke-width="1.5"/>
<path d="M478.7 486.1V492.7H472.1Z" fill="#000"/>
<rect x="509" y="491.7" width="6.6" height="6.6" fill="#fff" stroke="#000" stroke-width="1.5"/>
<path d="M515.6 491.7V498.3H509Z" fill="#000"/>
<rect x="111" y="505.2" width="8" height="8" fill="#000"/>
<rect x="120.2" y="513.8" width="8" height="8" fill="#000"/>
<rect x="129.5" y="530" width="8" height="8" fill="#000"/>
<rect x="138.7" y="550" width="8" height="8" fill="#000"/>
<rect x="148" y="567.6" width="8" height="8" fill="#000"/>
<rect x="157.2" y="571.4" width="8" height="8" fill="#000"/>
<rect x="166.4" y="579.2" width="8" height="8" fill="#000"/>
<rect x="175.7" y="585" width="8" height="8" fill="#000"/>
<rect x="184.9" y="594.6" width="8" height="8" fill="#000"/>
<rect x="194.2" y="598.7" width="8" height="8" fill="#000"/>
<rect x="203.4" y="575.3" width="8" height="8" fill="#000"/>
<rect x="212.6" y="551.4" width="8" height="8" fill="#000"/>
<rect x="221.9" y="537" width="8" height="8" fill="#000"/>
<rect x="231.1" y="536" width="8" height="8" fill="#000"/>
<rect x="240.4" y="546.7" width="8" height="8" fill="#000"/>
<rect x="249.6" y="538.5" width="8" height="8" fill="#000"/>
<rect x="258.8" y="534" width="8" height="8" fill="#000"/>
<rect x="268.1" y="511.3" width="8" height="8" fill="#000"/>
<rect x="277.3" y="488.7" width="8" height="8" fill="#000"/>
<rect x="286.6" y="464.5" width="8" height="8" fill="#000"/>
<rect x="295.8" y="452.3" width="8" height="8" fill="#000"/>
<rect x="305" y="449.7" width="8" height="8" fill="#000"/>
<rect x="314.3" y="447" width="8" height="8" fill="#000"/>
<rect x="323.5" y="444.3" width="8" height="8" fill="#000"/>
<rect x="332.8" y="443.2" width="8" height="8" fill="#000"/>
<rect x="342" y="447" width="8" height="8" fill="#000"/>
<rect x="351.2" y="445.4" width="8" height="8" fill="#000"/>
<rect x="360.5" y="447.5" width="8" height="8" fill="#000"/>
<rect x="369.7" y="454.4" width="8" height="8" fill="#000"/>
<rect x="379" y="454.4" width="8" height="8" fill="#000"/>
<rect x="406.7" y="463.5" width="8" height="8" fill="#000"/>
<rect x="443.6" y="470.8" width="8" height="8" fill="#000"/>
<rect x="471.4" y="476.3" width="8" height="8" fill="#000"/>
<rect x="508.3" y="480" width="8" height="8" fill="#000"/>
<text x="498.5" y="616.3" text-anchor="end" class="lb">G-CSF</text>
<text transform="translate(22.6,279) rotate(-90)" text-anchor="middle" class="ax">reticulocytes (%)</text>
<text x="316" y="733" text-anchor="middle" class="ax2">time (day)</text>
</svg>
</body></html>
